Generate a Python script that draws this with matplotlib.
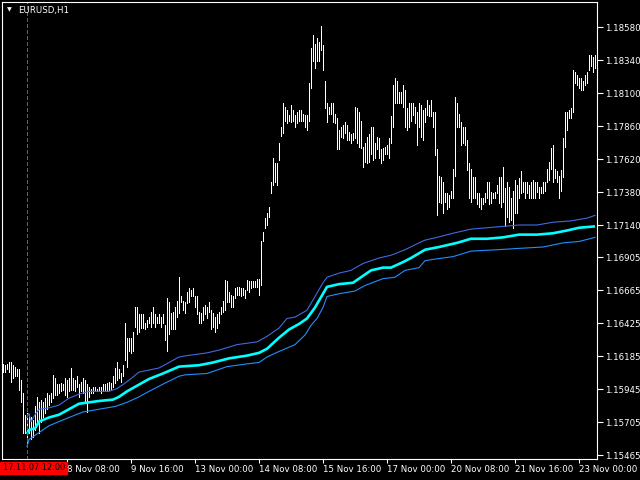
import matplotlib
matplotlib.use("Agg")
import matplotlib.pyplot as plt
from matplotlib.patches import Rectangle

# ── EURUSD H1 bars (high / low per hour, 7 Nov 00:00 .. 23 Nov 08:00) ───────
highs = [
    1.1613, 1.1612, 1.1613, 1.1614, 1.1614, 1.1612, 1.1611, 1.1609, 1.1609, 1.1601,
    1.1592, 1.1576, 1.1577, 1.1576, 1.1574, 1.1572, 1.1582, 1.1589, 1.1585, 1.1587,
    1.1585, 1.1588, 1.1592, 1.1590, 1.1592, 1.1605, 1.1603, 1.1598, 1.1598, 1.1599,
    1.1598, 1.1603, 1.1601, 1.1603, 1.1610, 1.1603, 1.1601, 1.1604, 1.1598, 1.1600,
    1.1603, 1.1601, 1.1598, 1.1596, 1.1595, 1.1596, 1.1596, 1.1595, 1.1596, 1.1596,
    1.1598, 1.1598, 1.1599, 1.1600, 1.1599, 1.1604, 1.1610, 1.1614, 1.1609, 1.1606,
    1.1612, 1.1643, 1.1632, 1.1632, 1.1632, 1.1636, 1.1654, 1.1654, 1.1649, 1.1649,
    1.1649, 1.1643, 1.1645, 1.1647, 1.1651, 1.1654, 1.1649, 1.1647, 1.1649, 1.1647,
    1.1649, 1.1641, 1.1661, 1.1658, 1.1650, 1.1651, 1.1654, 1.1659, 1.1676, 1.1662,
    1.1659, 1.1658, 1.1665, 1.1668, 1.1667, 1.1668, 1.1662, 1.1662, 1.1651, 1.1650,
    1.1654, 1.1656, 1.1654, 1.1658, 1.1652, 1.1650, 1.1647, 1.1649, 1.1651, 1.1654,
    1.1659, 1.1674, 1.1673, 1.1665, 1.1663, 1.1662, 1.1668, 1.1669, 1.1669, 1.1668,
    1.1668, 1.1667, 1.1674, 1.1673, 1.1673, 1.1673, 1.1673, 1.1675, 1.1675, 1.1702,
    1.1709, 1.1719, 1.1723, 1.1727, 1.1745, 1.1763, 1.1759, 1.1759, 1.1774, 1.1785,
    1.1803, 1.1800, 1.1798, 1.1794, 1.1801, 1.1798, 1.1794, 1.1796, 1.1798, 1.1798,
    1.1795, 1.1794, 1.1794, 1.1817, 1.1843, 1.1852, 1.1846, 1.1850, 1.1847, 1.1859,
    1.1845, 1.1819, 1.1803, 1.1800, 1.1803, 1.1803, 1.1795, 1.1792, 1.1783, 1.1785,
    1.1787, 1.1789, 1.1787, 1.1782, 1.1780, 1.1781, 1.1800, 1.1799, 1.1796, 1.1790,
    1.1771, 1.1774, 1.1778, 1.1780, 1.1785, 1.1785, 1.1774, 1.1778, 1.1777, 1.1769,
    1.1770, 1.1771, 1.1772, 1.1777, 1.1793, 1.1816, 1.1821, 1.1819, 1.1811, 1.1811,
    1.1816, 1.1812, 1.1799, 1.1803, 1.1803, 1.1803, 1.1800, 1.1796, 1.1803, 1.1801,
    1.1798, 1.1799, 1.1805, 1.1801, 1.1805, 1.1796, 1.1796, 1.1769, 1.1750, 1.1749,
    1.1745, 1.1737, 1.1737, 1.1736, 1.1739, 1.1755, 1.1807, 1.1803, 1.1795, 1.1789,
    1.1785, 1.1785, 1.1776, 1.1759, 1.1755, 1.1749, 1.1749, 1.1737, 1.1737, 1.1734,
    1.1734, 1.1737, 1.1745, 1.1745, 1.1738, 1.1737, 1.1738, 1.1743, 1.1749, 1.1749,
    1.1756, 1.1741, 1.1745, 1.1742, 1.1734, 1.1739, 1.1747, 1.1743, 1.1748, 1.1753,
    1.1745, 1.1745, 1.1745, 1.1743, 1.1745, 1.1747, 1.1745, 1.1745, 1.1742, 1.1742,
    1.1745, 1.1745, 1.1755, 1.1760, 1.1770, 1.1772, 1.1755, 1.1753, 1.1750, 1.1754,
    1.1777, 1.1796, 1.1796, 1.1798, 1.1799, 1.1827, 1.1825, 1.1823, 1.1821, 1.1821,
    1.1819, 1.1823, 1.1825, 1.1838, 1.1838, 1.1836, 1.1838,
]
lows = [
    1.1607, 1.1607, 1.1609, 1.1607, 1.1600, 1.1603, 1.1604, 1.1604, 1.1594, 1.1585,
    1.1563, 1.1563, 1.1553, 1.1563, 1.1558, 1.1560, 1.1565, 1.1569, 1.1563, 1.1571,
    1.1574, 1.1577, 1.1580, 1.1583, 1.1585, 1.1588, 1.1590, 1.1590, 1.1592, 1.1593,
    1.1594, 1.1590, 1.1589, 1.1593, 1.1594, 1.1594, 1.1593, 1.1596, 1.1589, 1.1593,
    1.1592, 1.1585, 1.1578, 1.1589, 1.1592, 1.1592, 1.1593, 1.1593, 1.1593, 1.1592,
    1.1593, 1.1594, 1.1593, 1.1594, 1.1594, 1.1596, 1.1599, 1.1601, 1.1603, 1.1600,
    1.1604, 1.1616, 1.1611, 1.1622, 1.1621, 1.1622, 1.1640, 1.1635, 1.1636, 1.1639,
    1.1639, 1.1638, 1.1640, 1.1643, 1.1640, 1.1643, 1.1640, 1.1643, 1.1643, 1.1640,
    1.1643, 1.1630, 1.1622, 1.1635, 1.1638, 1.1638, 1.1638, 1.1647, 1.1650, 1.1658,
    1.1652, 1.1650, 1.1657, 1.1658, 1.1662, 1.1662, 1.1654, 1.1649, 1.1643, 1.1643,
    1.1645, 1.1649, 1.1646, 1.1651, 1.1638, 1.1640, 1.1636, 1.1639, 1.1643, 1.1649,
    1.1651, 1.1652, 1.1658, 1.1658, 1.1654, 1.1654, 1.1661, 1.1663, 1.1663, 1.1662,
    1.1663, 1.1661, 1.1667, 1.1665, 1.1668, 1.1669, 1.1669, 1.1669, 1.1663, 1.1670,
    1.1702, 1.1712, 1.1714, 1.1720, 1.1737, 1.1743, 1.1745, 1.1743, 1.1761, 1.1779,
    1.1781, 1.1790, 1.1788, 1.1790, 1.1789, 1.1790, 1.1785, 1.1788, 1.1790, 1.1790,
    1.1790, 1.1785, 1.1783, 1.1790, 1.1814, 1.1833, 1.1828, 1.1833, 1.1833, 1.1841,
    1.1827, 1.1799, 1.1789, 1.1795, 1.1795, 1.1789, 1.1788, 1.1769, 1.1769, 1.1778,
    1.1777, 1.1781, 1.1776, 1.1776, 1.1774, 1.1776, 1.1777, 1.1774, 1.1771, 1.1770,
    1.1756, 1.1760, 1.1759, 1.1760, 1.1766, 1.1761, 1.1763, 1.1769, 1.1763, 1.1759,
    1.1761, 1.1766, 1.1766, 1.1763, 1.1774, 1.1785, 1.1803, 1.1803, 1.1803, 1.1803,
    1.1800, 1.1785, 1.1783, 1.1785, 1.1790, 1.1794, 1.1788, 1.1772, 1.1785, 1.1778,
    1.1776, 1.1789, 1.1794, 1.1793, 1.1793, 1.1785, 1.1765, 1.1721, 1.1731, 1.1730,
    1.1723, 1.1731, 1.1726, 1.1727, 1.1734, 1.1734, 1.1750, 1.1785, 1.1785, 1.1772,
    1.1774, 1.1772, 1.1754, 1.1734, 1.1731, 1.1734, 1.1734, 1.1729, 1.1727, 1.1726,
    1.1729, 1.1731, 1.1734, 1.1729, 1.1730, 1.1734, 1.1734, 1.1737, 1.1730, 1.1727,
    1.1731, 1.1713, 1.1720, 1.1716, 1.1718, 1.1712, 1.1723, 1.1723, 1.1734, 1.1737,
    1.1738, 1.1734, 1.1737, 1.1734, 1.1734, 1.1734, 1.1734, 1.1738, 1.1734, 1.1737,
    1.1737, 1.1739, 1.1745, 1.1747, 1.1755, 1.1745, 1.1748, 1.1745, 1.1734, 1.1739,
    1.1749, 1.1771, 1.1783, 1.1792, 1.1792, 1.1796, 1.1817, 1.1816, 1.1814, 1.1812,
    1.1812, 1.1816, 1.1817, 1.1827, 1.1830, 1.1825, 1.1828,
]

# ── Indicator from the cursor bar (index 12): middle line and two bands ──────
mid_bar = [12, 13, 16, 18, 23, 28, 33, 38, 43, 48, 55, 58, 62, 73, 80, 88, 98,
           105, 113, 122, 128, 132, 138, 143, 148, 152, 156, 160, 162, 168, 175,
           180, 184, 190, 194, 200, 204, 211, 218, 227, 234, 242, 250, 258, 267,
           275, 282, 288, 296]
mid_val = [1.1562, 1.1565, 1.1566, 1.1571, 1.1574, 1.1576, 1.1580, 1.1584, 1.1585,
           1.1586, 1.1587, 1.1589, 1.1593, 1.1602, 1.1606, 1.1611, 1.1612, 1.1614,
           1.1617, 1.1619, 1.1621, 1.1624, 1.1632, 1.1638, 1.1642, 1.1646, 1.1654,
           1.1664, 1.1669, 1.1671, 1.1672, 1.1677, 1.1681, 1.1683, 1.1683, 1.1687,
           1.1690, 1.1696, 1.1698, 1.1701, 1.1704, 1.1704, 1.1705, 1.1707, 1.1707,
           1.1708, 1.1710, 1.1712, 1.1713]

up_bar = [12, 13, 14, 16, 18, 23, 28, 33, 38, 43, 53, 57, 62, 68, 78, 88, 92, 102,
          108, 117, 127, 132, 138, 142, 146, 152, 156, 160, 162, 168, 174, 180,
          188, 194, 201, 208, 211, 217, 225, 234, 242, 250, 258, 267, 275, 284,
          292, 296]
up_val = [1.1574, 1.1577, 1.1571, 1.1576, 1.1580, 1.1581, 1.1583, 1.1588, 1.1591,
          1.1593, 1.1593, 1.1595, 1.1600, 1.1607, 1.1610, 1.1618, 1.1619, 1.1621,
          1.1623, 1.1627, 1.1629, 1.1633, 1.1639, 1.1646, 1.1647, 1.1652, 1.1662,
          1.1672, 1.1676, 1.1679, 1.1681, 1.1686, 1.1690, 1.1692, 1.1696, 1.1701,
          1.1703, 1.1705, 1.1708, 1.1711, 1.1712, 1.1713, 1.1714, 1.1714, 1.1716,
          1.1717, 1.1719, 1.1721]

dn_bar = [12, 13, 16, 18, 23, 28, 33, 40, 48, 56, 62, 68, 73, 81, 88, 91, 102, 112,
          122, 128, 132, 138, 146, 151, 154, 157, 160, 162, 168, 176, 181, 190,
          196, 201, 208, 211, 215, 225, 234, 247, 258, 270, 280, 288, 296]
dn_val = [1.1553, 1.1558, 1.1561, 1.1563, 1.1568, 1.1571, 1.1574, 1.1578, 1.1580,
          1.1582, 1.1585, 1.1589, 1.1593, 1.1599, 1.1604, 1.1605, 1.1606, 1.1611,
          1.1613, 1.1614, 1.1618, 1.1622, 1.1627, 1.1634, 1.1641, 1.1646, 1.1654,
          1.1662, 1.1664, 1.1666, 1.1670, 1.1675, 1.1676, 1.1681, 1.1683, 1.1688,
          1.1689, 1.1691, 1.1695, 1.1696, 1.1697, 1.1698, 1.1701, 1.1702, 1.1705]

# ── Axis labels ───────────────────────────────────────────────────────────────
price_ticks = [1.15465, 1.15705, 1.15945, 1.16185, 1.16425, 1.16665, 1.16905,
               1.17140, 1.17380, 1.17620, 1.17860, 1.18100, 1.18340, 1.18580]
price_labels = ["1.15465", "1.15705", "1.15945", "1.16185", "1.16425", "1.16665",
                "1.16905", "1.17140", "1.17380", "1.17620", "1.17860", "1.18100",
                "1.18340", "1.18580"]
time_labels = ["8 Nov 08:00", "9 Nov 16:00", "13 Nov 00:00", "14 Nov 08:00",
               "15 Nov 16:00", "17 Nov 00:00", "20 Nov 08:00", "21 Nov 16:00",
               "23 Nov 00:00"]
cursor_bar = 12
cursor_label = "17.11.07 12:00"

plt.rcParams["font.family"] = ["DejaVu Sans"]
W, H = 640, 480
fig = plt.figure(figsize=(6.4, 4.8), dpi=100, facecolor="black")
ax = fig.add_axes([2 / W, 21 / H, 595 / W, 457 / H], facecolor="black")

bars = list(range(len(highs)))
ax.vlines(bars, lows, highs, colors="white", lw=0.55, antialiased=False)

ax.plot(up_bar, up_val, color="#4169e1", lw=0.8)
ax.plot(dn_bar, dn_val, color="#1e90ff", lw=0.8)
ax.plot(mid_bar, mid_val, color="#00ffff", lw=1.9, solid_capstyle="butt")

ax.axvline(cursor_bar, color="#ff2020", lw=0.9, ls=(0, (3, 2)), antialiased=False)

ax.set_xlim(-0.5, 297)
ax.set_ylim(1.15438, 1.18762)

ax.yaxis.tick_right()
ax.set_yticks(price_ticks)
ax.set_yticklabels(price_labels)
ax.set_xticks(range(32, len(highs), 32))
ax.set_xticklabels(time_labels)
for lab in ax.get_xticklabels():
    lab.set_ha("left")
ax.tick_params(axis="y", colors="white", length=4, width=0.8, pad=2, labelsize=6.2)
ax.tick_params(axis="x", colors="white", length=3, width=0.8, pad=1.5, labelsize=6.2)
for sp in ax.spines.values():
    sp.set_color("white")
    sp.set_linewidth(0.8)

# symbol caption top-left
fig.text(9 / W, 1 - 10 / H, "▼", color="white", fontsize=4.5, ha="center", va="center")
fig.text(18 / W, 1 - 10 / H, "EURUSD,H1", color="white", fontsize=6.2, va="center")

# red time label of the cursor line
fig.add_artist(Rectangle((0, 1 - 474 / H), 67 / W, 12 / H,
                         transform=fig.transFigure, color="red", zorder=5))
fig.text(65 / W, 1 - 468 / H, cursor_label, color="black", fontsize=5.9,
         ha="right", va="center", zorder=6)

fig.savefig("out.png", dpi=100, facecolor="black")
